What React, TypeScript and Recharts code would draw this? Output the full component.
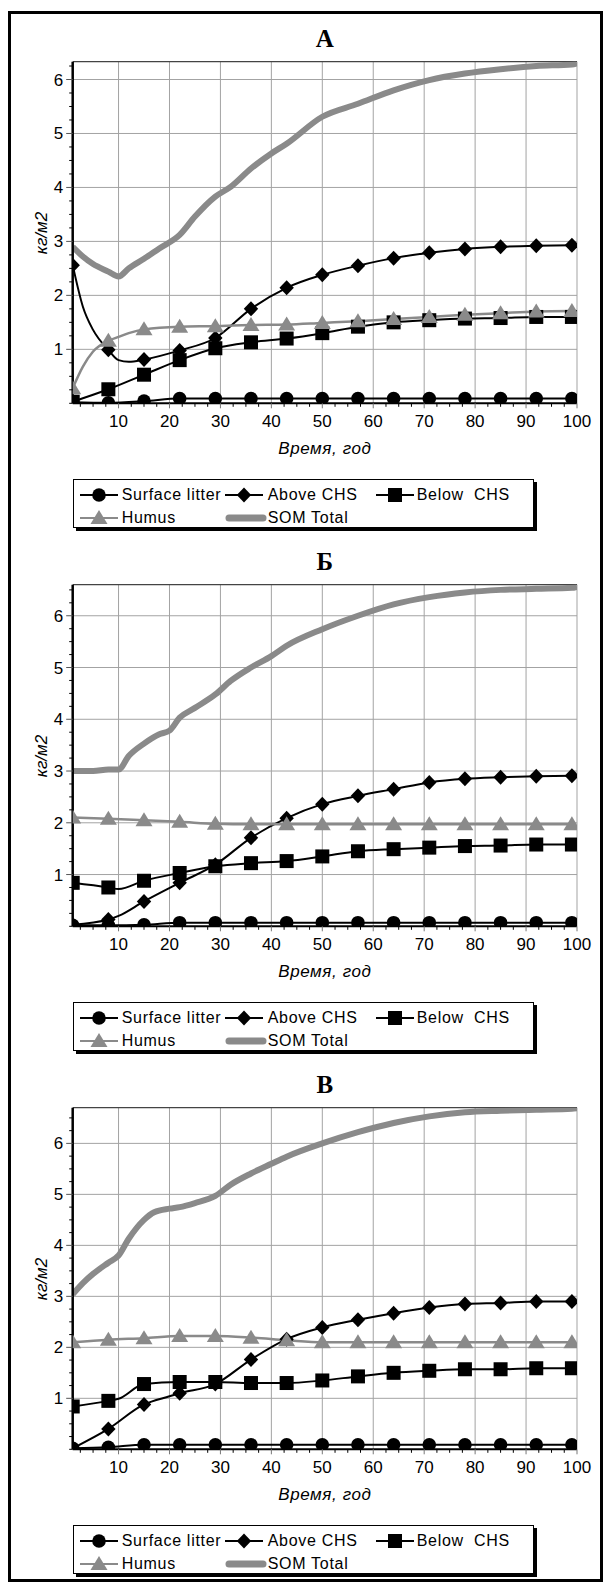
import React from 'react';
import { LineChart, Line, XAxis, YAxis, CartesianGrid, ReferenceLine, Legend } from 'recharts';

// ---------- shared labels ----------
const MARKER_TIMES = [1, 8, 15, 22, 29, 36, 43, 50, 57, 64, 71, 78, 85, 92, 99];
const X_LABEL_TICKS = [10, 20, 30, 40, 50, 60, 70, 80, 90, 100];
const Y_LABEL_TICKS = [1, 2, 3, 4, 5, 6];
const SERIES_NAMES = ['Surface litter', 'Above CHS', 'Below  CHS', 'Humus', 'SOM Total'];
const PANEL_TITLES = ['А', 'Б', 'В'];
const X_TITLE = 'Время, год';
const Y_TITLE = 'кг/м2';
const Y_MAX = [6.33, 6.6, 6.7];

// ---------- panel А ----------
const timeA = [1, 3, 5, 8, 10, 12, 15, 18, 22, 25, 29, 32, 36, 40, 43, 50, 57, 64, 71, 78, 85, 92, 99, 100];
const litterA = [0.02, null, null, 0.01, null, null, 0.04, null, 0.09, null, 0.09, null, 0.09, null, 0.09, 0.09, 0.09, 0.09, 0.09, 0.09, 0.09, 0.09, 0.09, null];
const aboveA = [2.56, 1.79, 1.36, 0.99, 0.8, 0.77, 0.81, null, 0.98, null, 1.21, null, 1.75, null, 2.14, 2.38, 2.55, 2.69, 2.79, 2.86, 2.9, 2.92, 2.93, null];
const belowA = [0.03, null, null, 0.26, null, null, 0.53, null, 0.8, null, 1.02, null, 1.13, null, 1.2, 1.3, 1.42, 1.5, 1.54, 1.57, 1.58, 1.6, 1.6, null];
const humusA = [0.28, 0.68, 0.96, 1.16, 1.23, 1.3, 1.37, null, 1.42, null, 1.43, null, 1.45, null, 1.46, 1.49, 1.52, 1.56, 1.6, 1.64, 1.67, 1.7, 1.71, null];
const somA = [2.9, 2.72, 2.58, 2.44, 2.35, 2.5, 2.68, 2.87, 3.12, 3.46, 3.83, 4.01, 4.35, 4.63, 4.81, 5.31, 5.55, 5.8, 5.99, 6.11, 6.19, 6.25, 6.28, 6.3];

// ---------- panel Б ----------
const timeB = [1, 5, 8, 10, 12, 15, 18, 20, 22, 25, 29, 32, 36, 40, 43, 50, 57, 64, 71, 78, 85, 92, 99, 100];
const litterB = [0.02, null, 0.02, null, null, 0.03, null, null, 0.07, null, 0.07, null, 0.07, null, 0.07, 0.07, 0.07, 0.07, 0.07, 0.07, 0.07, 0.07, 0.07, null];
const aboveB = [0.03, null, 0.13, 0.2, null, 0.48, null, null, 0.84, null, 1.19, null, 1.71, null, 2.09, 2.36, 2.52, 2.65, 2.78, 2.85, 2.88, 2.9, 2.91, null];
const belowB = [0.84, null, 0.75, 0.72, null, 0.88, null, null, 1.03, null, 1.16, null, 1.22, null, 1.26, 1.35, 1.45, 1.49, 1.52, 1.55, 1.56, 1.58, 1.58, null];
const humusB = [2.1, null, 2.08, null, null, 2.05, null, null, 2.02, null, 1.98, null, 1.97, null, 1.97, 1.97, 1.97, 1.97, 1.97, 1.97, 1.97, 1.97, 1.97, null];
const somB = [3.0, 3.0, 3.03, 3.03, 3.29, 3.53, 3.71, 3.78, 4.03, 4.22, 4.48, 4.74, 5.0, 5.22, 5.42, 5.74, 6.0, 6.22, 6.36, 6.45, 6.5, 6.52, 6.54, 6.56];

// ---------- panel В ----------
const timeC = [1, 3, 5, 8, 10, 12, 15, 17, 20, 22, 25, 29, 32, 36, 40, 43, 50, 57, 64, 71, 78, 85, 92, 99, 100];
const litterC = [0.02, null, null, 0.04, null, null, 0.09, null, null, 0.09, null, 0.09, null, 0.09, null, 0.09, 0.09, 0.09, 0.09, 0.09, 0.09, 0.09, 0.09, 0.09, null];
const aboveC = [0.02, null, null, 0.4, null, null, 0.88, null, 1.04, 1.1, null, 1.28, null, 1.76, null, 2.16, 2.39, 2.54, 2.67, 2.78, 2.85, 2.87, 2.9, 2.9, null];
const belowC = [0.84, null, null, 0.95, 0.99, null, 1.28, null, null, 1.32, null, 1.32, null, 1.3, null, 1.3, 1.35, 1.43, 1.5, 1.54, 1.57, 1.57, 1.59, 1.59, null];
const humusC = [2.1, null, null, 2.15, null, null, 2.18, null, null, 2.22, null, 2.22, null, 2.19, null, 2.14, 2.1, 2.1, 2.1, 2.1, 2.1, 2.1, 2.1, 2.1, null];
const somC = [3.04, 3.26, 3.44, 3.66, 3.8, 4.13, 4.5, 4.65, 4.72, 4.75, 4.83, 4.97, 5.19, 5.41, 5.6, 5.74, 6.0, 6.22, 6.4, 6.53, 6.61, 6.64, 6.66, 6.68, 6.69];

const SANS = '"Liberation Sans", Arial, Helvetica, sans-serif';
const SERIF = '"Liberation Serif", "Times New Roman", serif';
const GRAY = '#8a8a8a';

type Marker = 'circle' | 'diamond' | 'square' | 'triangle' | null;
const SERIES: { key: string; name: string; color: string; width: number; marker: Marker }[] = [
  { key: 'litter', name: SERIES_NAMES[0], color: '#000', width: 2, marker: 'circle' },
  { key: 'above', name: SERIES_NAMES[1], color: '#000', width: 2, marker: 'diamond' },
  { key: 'below', name: SERIES_NAMES[2], color: '#000', width: 2, marker: 'square' },
  { key: 'humus', name: SERIES_NAMES[3], color: GRAY, width: 2.5, marker: 'triangle' },
  { key: 'som', name: SERIES_NAMES[4], color: GRAY, width: 6, marker: null },
];
const DRAW_ORDER = ['som', 'litter', 'above', 'below', 'humus'];

function buildRows(times: number[], series: (number | null)[][]) {
  return times.map((t, i) => ({
    t,
    litter: series[0][i],
    above: series[1][i],
    below: series[2][i],
    humus: series[3][i],
    som: series[4][i],
  }));
}

const PANELS = [
  { title: PANEL_TITLES[0], yMax: Y_MAX[0], rows: buildRows(timeA, [litterA, aboveA, belowA, humusA, somA]) },
  { title: PANEL_TITLES[1], yMax: Y_MAX[1], rows: buildRows(timeB, [litterB, aboveB, belowB, humusB, somB]) },
  { title: PANEL_TITLES[2], yMax: Y_MAX[2], rows: buildRows(timeC, [litterC, aboveC, belowC, humusC, somC]) },
];

const X_ALL_TICKS: number[] = [];
for (let i = 1; i <= 40; i++) X_ALL_TICKS.push(i * 2.5);

function yTicksFor(max: number) {
  const out: number[] = [];
  for (let i = 0; i * 0.25 <= max + 1e-9; i++) out.push(i * 0.25);
  return out;
}

function shape(marker: Marker, cx: number, cy: number, key?: any) {
  switch (marker) {
    case 'circle':
      return <circle key={key} cx={cx} cy={cy} r={6.8} fill="#000" />;
    case 'diamond':
      return <polygon key={key} points={`${cx},${cy - 7.5} ${cx + 7.2},${cy} ${cx},${cy + 7.5} ${cx - 7.2},${cy}`} fill="#000" />;
    case 'square':
      return <rect key={key} x={cx - 7} y={cy - 7} width={14} height={14} fill="#000" />;
    case 'triangle':
      return <polygon key={key} points={`${cx},${cy - 8} ${cx + 8.5},${cy + 6} ${cx - 8.5},${cy + 6}`} fill={GRAY} />;
    default:
      return null;
  }
}

const makeDot = (marker: Marker) => (props: any) => {
  const { cx, cy, payload, index } = props;
  if (cx == null || cy == null || !payload || !MARKER_TIMES.includes(payload.t)) {
    return <g key={`e${index}`} />;
  }
  return <g key={`d${index}`}>{shape(marker, cx, cy)}</g>;
};

const XTick = (props: any) => {
  const { x, y, payload } = props;
  const v = payload.value;
  const major = X_LABEL_TICKS.includes(v);
  return (
    <g>
      <line x1={x} x2={x} y1={y} y2={y + (major ? 5 : 3.5)} stroke={major ? '#777' : '#000'} strokeWidth={1} />
      {major && (
        <text x={x} y={y + 24} textAnchor="middle" fontSize={17} fontFamily={SANS} fill="#000">
          {v}
        </text>
      )}
    </g>
  );
};

const YTick = (props: any) => {
  const { x, y, payload } = props;
  const v = payload.value;
  const major = Y_LABEL_TICKS.includes(v);
  return (
    <g>
      <line x1={x - (major ? 6.5 : 3.5)} x2={x} y1={y} y2={y} stroke={major ? '#555' : '#000'} strokeWidth={1} />
      {major && (
        <text x={x - 9.5} y={y + 6} textAnchor="end" fontSize={17} fontFamily={SANS} fill="#000">
          {v}
        </text>
      )}
    </g>
  );
};

const LEGEND_COLS = [6, 151, 302];
const LEGEND_ROWS = [14.5, 37.5];

const LegendIcon = ({ s }: { s: (typeof SERIES)[number] }) => (
  <svg width={40} height={18} style={{ position: 'absolute', left: 0, top: -9, overflow: 'visible' }}>
    {s.marker ? (
      <>
        <line x1={0} x2={38} y1={9} y2={9} stroke={s.color} strokeWidth={2.2} />
        {shape(s.marker, 19, 9)}
      </>
    ) : (
      <line x1={4} x2={38} y1={9} y2={9} stroke={s.color} strokeWidth={7} strokeLinecap="round" />
    )}
  </svg>
);

const LegendBox = () => (
  <div
    style={{
      position: 'relative',
      width: 461,
      height: 49,
      boxSizing: 'border-box',
      border: '1.5px solid #000',
      boxShadow: '3px 3px 0 #000',
      background: '#fff',
      fontFamily: SANS,
      fontSize: 16,
      letterSpacing: 0.7,
      color: '#000',
    }}
  >
    {SERIES.map((s, i) => {
      const col = LEGEND_COLS[i < 3 ? i : i - 3];
      const row = LEGEND_ROWS[i < 3 ? 0 : 1];
      return (
        <div key={s.key} style={{ position: 'absolute', left: col, top: row }}>
          <LegendIcon s={s} />
          <span
            style={{
              position: 'absolute',
              left: i === 0 || i === 3 ? 42 : i === 2 ? 41 : 43,
              top: -10,
              whiteSpace: 'pre',
              lineHeight: '20px',
            }}
          >
            {s.name}
          </span>
        </div>
      );
    })}
  </div>
);

const PANEL_STEP = 523;
const CH_W = 606;
const CH_H = 540;
const PLOT_TOP = 61.7;
const PLOT_BOTTOM = 403.3;
const PLOT_LEFT = 72.7;
const PLOT_RIGHT = 577;
const X_AXIS_H = 70;

const Panel = ({ p, idx }: { p: (typeof PANELS)[number]; idx: number }) => {
  const top = idx * PANEL_STEP;
  const cx = (PLOT_LEFT + PLOT_RIGHT) / 2;
  return (
    <div style={{ position: 'absolute', left: 0, top, width: CH_W, height: CH_H }}>
      <div
        style={{
          position: 'absolute',
          left: cx - 50,
          width: 100,
          top: 24,
          textAlign: 'center',
          fontFamily: SERIF,
          fontWeight: 'bold',
          fontSize: 25,
          lineHeight: '30px',
          color: '#000',
        }}
      >
        {p.title}
      </div>
      <LineChart
        width={CH_W}
        height={CH_H}
        data={p.rows}
        margin={{ top: PLOT_TOP, right: CH_W - PLOT_RIGHT, left: 0, bottom: CH_H - PLOT_BOTTOM - X_AXIS_H }}
      >
        <CartesianGrid stroke="#a3a3a3" strokeWidth={1} horizontalValues={Y_LABEL_TICKS} verticalValues={X_LABEL_TICKS} />
        <XAxis
          dataKey="t"
          type="number"
          domain={[1, 100]}
          allowDataOverflow
          ticks={X_ALL_TICKS}
          interval={0}
          tickLine={false}
          tickSize={0}
          tickMargin={0}
          tick={(tp: any) => <XTick {...tp} />}
          axisLine={{ stroke: '#000', strokeWidth: 2 }}
          height={X_AXIS_H}
        />
        <YAxis
          type="number"
          domain={[0, p.yMax]}
          allowDataOverflow
          ticks={yTicksFor(p.yMax)}
          interval={0}
          tickLine={false}
          tickSize={0}
          tickMargin={0}
          tick={(tp: any) => <YTick {...tp} />}
          axisLine={{ stroke: '#000', strokeWidth: 2.5 }}
          width={PLOT_LEFT}
        />
        <ReferenceLine y={p.yMax} stroke="#444" strokeWidth={1.3} />
        {DRAW_ORDER.map((k) => {
          const s = SERIES.find((q) => q.key === k)!;
          return (
            <Line
              key={k}
              dataKey={k}
              name={s.name}
              type="monotone"
              stroke={s.color}
              strokeWidth={s.width}
              dot={s.marker ? makeDot(s.marker) : false}
              activeDot={false}
              connectNulls
              isAnimationActive={false}
            />
          );
        })}
        <Legend
          layout="horizontal"
          align="center"
          verticalAlign="middle"
          wrapperStyle={{ left: PLOT_LEFT, top: 479, width: 461, height: 49 }}
          content={() => <LegendBox />}
        />
      </LineChart>
      <div
        style={{
          position: 'absolute',
          left: cx - 100,
          width: 200,
          top: PLOT_BOTTOM + 35,
          textAlign: 'center',
          fontFamily: SANS,
          fontStyle: 'italic',
          fontSize: 17,
          letterSpacing: 0.6,
          lineHeight: '22px',
          color: '#000',
        }}
      >
        {X_TITLE}
      </div>
      <div
        style={{
          position: 'absolute',
          left: 42 - 50,
          top: (PLOT_TOP + PLOT_BOTTOM) / 2 - 11,
          width: 100,
          textAlign: 'center',
          transform: 'rotate(-90deg)',
          fontFamily: SANS,
          fontStyle: 'italic',
          fontSize: 17,
          lineHeight: '22px',
          color: '#000',
        }}
      >
        {Y_TITLE}
      </div>
    </div>
  );
};

export default function App() {
  return (
    <div style={{ position: 'absolute', left: 0, top: 0, width: 606, height: 1585, background: '#fff' }}>
      <div
        style={{
          position: 'absolute',
          left: 8,
          top: 11,
          width: 595,
          height: 1571,
          boxSizing: 'border-box',
          border: '3px solid #000',
        }}
      />
      {PANELS.map((p, i) => (
        <Panel key={i} p={p} idx={i} />
      ))}
    </div>
  );
}
